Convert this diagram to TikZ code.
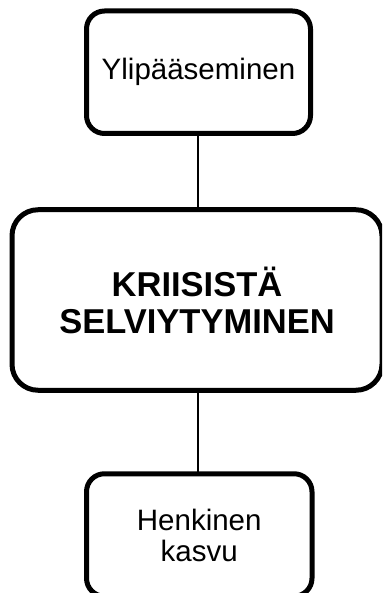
\documentclass[tikz,border=0pt]{standalone}
\usepackage{fontspec}
\setmainfont{Liberation Sans}
\begin{document}
\begin{tikzpicture}[x=1pt,y=1pt,
  box/.style={draw=black, line width=5pt, rounded corners=18pt, fill=white,
    align=center, inner sep=0pt, font=\fontsize{29.5}{31}\selectfont},
  bigbox/.style={box, rounded corners=26pt,
    font=\fontsize{34.5}{37}\selectfont\bfseries},
  link/.style={draw=black, line width=1.3pt}]
  % canvas and clipping frame
  \useasboundingbox (0,0) rectangle (382,-593);
  \fill[white] (0,0) rectangle (382,-593);
  \clip (0,0) rectangle (382,-593);

  % connectors behind the boxes
  \coordinate (c1) at (198,-72);
  \coordinate (c2) at (198,-302);
  \coordinate (c3) at (198,-536);
  \draw[link] (c1) -- (c2) -- (c3);

  % boxes
  \node[box, minimum width=224pt, minimum height=122.5pt] (top) at (198.5,-72.25) {Ylipääseminen};
  \node[bigbox, minimum width=370pt, minimum height=180.5pt] (mid) at (197,-300) {KRIISISTÄ\\SELVIYTYMINEN};
  \node[box, minimum width=225.5pt, minimum height=122.5pt] (bot) at (199.25,-535) {Henkinen\\kasvu};
\end{tikzpicture}
\end{document}
